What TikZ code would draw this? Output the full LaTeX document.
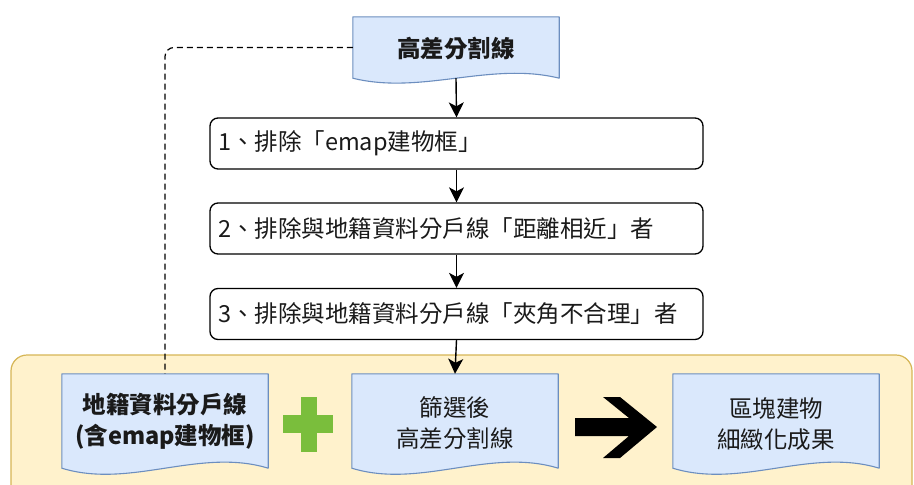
\documentclass[tikz,border=0pt]{standalone}
\usepackage{fontspec}
\setmainfont{Noto Sans CJK TC}
\usetikzlibrary{arrows.meta}
\definecolor{docfill}{HTML}{DAE8FC}
\definecolor{docline}{HTML}{6C8EBF}
\definecolor{yfill}{HTML}{FFF2CC}
\definecolor{yline}{HTML}{D6B656}
\definecolor{plusgreen}{HTML}{7ABE3C}
\definecolor{txt}{HTML}{1A1A1A}
\newcommand\docshape[2]{%
  \path[fill=docfill,draw=docline,line width=1.1pt,line join=round]
    (#1.south west) -- (#1.north west) -- (#1.north east) -- (#1.south east)
    .. controls +(-68.7,-#2) and +(68.7,#2) .. (#1.south west) -- cycle;}
\begin{document}
\begin{tikzpicture}[x=1pt,y=-1pt,
  docbox/.style={minimum width=206pt,inner sep=0pt,align=center,text=txt,
    font=\fontsize{23.5pt}{31pt}\selectfont},
  stepbox/.style={draw=black,line width=1.3pt,fill=white,rounded corners=8pt,
    minimum height=51pt,text width=477pt,inner xsep=8pt,inner ysep=0pt,
    align=left,text=txt,font=\fontsize{23.5pt}{28pt}\selectfont},
  conn/.style={draw=black,line width=1.4pt,-{Stealth[length=15pt,width=15pt,inset=4pt]}},
  dconn/.style={draw=black,line width=1.2pt,dash pattern=on 6pt off 4pt,rounded corners=9pt}]
\useasboundingbox (0,0) rectangle (914,485);
\fill[white] (0,0) rectangle (914,485);
% container
\draw[fill=yfill,draw=yline,line width=1.2pt,rounded corners=16pt] (11,355) rectangle (912,520);
% nodes (placeholders for shapes)
\node[docbox,minimum height=61pt] (top) at (456,47.5) {};
\node[docbox,minimum height=94pt] (A) at (165,421) {};
\node[docbox,minimum height=94pt] (B) at (455,421) {};
\node[docbox,minimum height=94pt] (C) at (776,421) {};
\docshape{top}{17}
\docshape{A}{21}
\docshape{B}{21}
\docshape{C}{21}
\node[docbox,minimum height=61pt,font=\fontsize{23.5pt}{31pt}\selectfont\bfseries] at ([yshift=-1pt]top.center) {高差分割線};
\node[docbox,minimum height=94pt,font=\fontsize{23.5pt}{31pt}\selectfont\bfseries] at (A) {地籍資料分戶線\\(含emap建物框)};
\node[docbox,minimum height=94pt] at ([yshift=-2pt]B.center) {篩選後\\高差分割線};
\node[docbox,minimum height=94pt] at ([yshift=-3pt]C.center) {區塊建物\\細緻化成果};
% step boxes
\node[stepbox] (s1) at (456.5,143.5) {1、排除「emap建物框」};
\node[stepbox] (s2) at (456.5,228.5) {2、排除與地籍資料分戶線「距離相近」者};
\node[stepbox] (s3) at (456.5,314) {3、排除與地籍資料分戶線「夾角不合理」者};
% connectors
\draw[conn] (top.south) -- (s1.north);
\draw[conn] (s1.south) -- (s2.north);
\draw[conn] (s2.south) -- (s3.north);
\draw[conn] (s3.south) -- (B.north);
\draw[dconn] (top.west) -| (A.north);
% plus sign
\fill[plusgreen] (301,397) rectangle (317,452);
\fill[plusgreen] (283,415) rectangle (333,433);
% big arrow
\fill[black] (575,418) -- (629,418) -- (603,397) -- (620,397) -- (657,427)
  -- (620,458) -- (603,458) -- (629,436) -- (575,436) -- cycle;
\end{tikzpicture}
\end{document}
